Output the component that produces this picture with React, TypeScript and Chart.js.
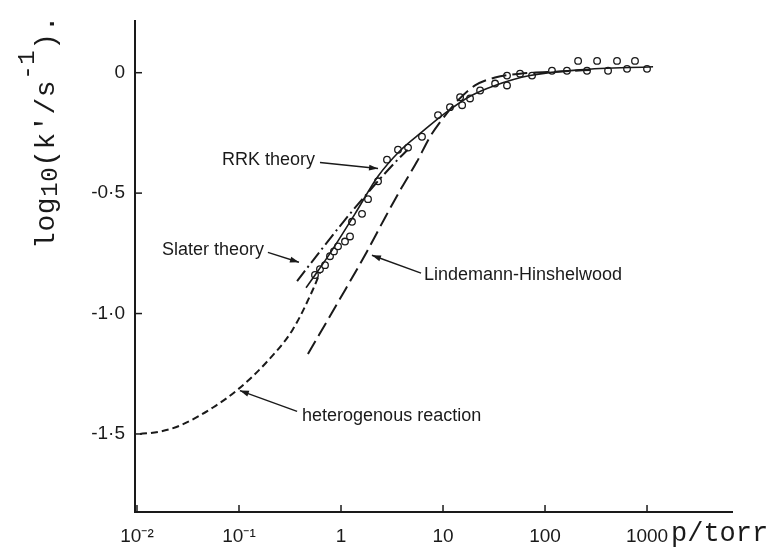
import React, { useEffect, useRef } from "react";
import { Chart, registerables } from "chart.js";

Chart.register(...registerables);

// ---- axis ticks ----
const xTickValues = [0.01, 0.1, 1, 10, 100, 1000];
const xTickLabels = ["10⁻²", "10⁻¹", "1", "10", "100", "1000"];
const yTickValues = [-1.5, -1.0, -0.5, 0];
const yTickLabels = ["-1·5", "-1·0", "-0·5", "0"];

// ---- experimental points: pressure (torr) and log10(k'/s^-1) ----
const pressure = [
  0.556, 0.622, 0.697, 0.78, 0.853, 0.935, 1.094, 1.225, 1.282, 1.607, 1.84,
  2.307, 2.824, 3.62, 4.54, 6.22, 8.93, 11.7, 14.7, 15.4, 18.4, 23.1, 32.4,
  42.4, 42.4, 56.9, 74.6, 117, 164, 211, 258, 324, 415, 508, 637, 762, 1000,
];
const logK = [
  -0.84, -0.816, -0.799, -0.762, -0.742, -0.721, -0.701, -0.68, -0.619, -0.586,
  -0.525, -0.451, -0.361, -0.32, -0.311, -0.266, -0.176, -0.143, -0.102, -0.135,
  -0.107, -0.074, -0.045, -0.053, -0.012, -0.004, -0.012, 0.008, 0.008, 0.049,
  0.008, 0.049, 0.008, 0.049, 0.016, 0.049, 0.016,
];

// ---- heterogenous reaction (short dashes) ----
const hetP = [0.0107, 0.0168, 0.0264, 0.0556, 0.0977, 0.188, 0.338, 0.531, 0.622];
const hetLogK = [-1.5, -1.49, -1.465, -1.39, -1.315, -1.2, -1.065, -0.9, -0.83];

// ---- Lindemann-Hinshelwood (long dashes) ----
const lhP = [0.474, 0.977, 1.799, 2.7, 3.96, 5.56, 7.46, 10.0, 14.0, 20.6, 32.4, 56.9, 140, 300];
const lhLogK = [-1.168, -0.939, -0.742, -0.602, -0.475, -0.369, -0.266, -0.189, -0.115, -0.053, -0.02, -0.004, 0.005, 0.012];

// ---- Slater theory (dash-dot) ----
const slaterP = [0.371, 0.622, 1.094, 1.923, 3.38, 4.5];
const slaterLogK = [-0.865, -0.742, -0.611, -0.488, -0.373, -0.32];

// ---- RRK theory (solid) ----
const rrkP = [0.454, 0.78, 1.371, 2.307, 3.79, 6.22, 10.5, 18.4, 32.4, 71.3, 220, 1146];
const rrkLogK = [-0.893, -0.75, -0.586, -0.43, -0.324, -0.246, -0.168, -0.098, -0.053, -0.012, 0.012, 0.025];

// ---- labelled arrows (anchors in data units) ----
const annotations = [
  { text: "RRK theory", at: [0.0681, -0.361], from: [0.622, -0.373], tip: [2.307, -0.398] },
  { text: "Slater theory", at: [0.0176, -0.738], from: [0.192, -0.746], tip: [0.387, -0.787] },
  { text: "Lindemann-Hinshelwood", at: [6.51, -0.84], from: [6.09, -0.832], tip: [2.01, -0.758] },
  { text: "heterogenous reaction", at: [0.415, -1.426], from: [0.371, -1.406], tip: [0.102, -1.32] },
];

const INK = "#1a1a1a";

const pts = (xs: number[], ys: number[]) => xs.map((x, i) => ({ x, y: ys[i] }));

const decorPlugin = {
  id: "decor",
  afterDraw(chart: any) {
    const { ctx, chartArea } = chart;
    const xs = chart.scales.x;
    const ys = chart.scales.y;
    ctx.save();
    ctx.strokeStyle = INK;
    ctx.fillStyle = INK;
    ctx.lineWidth = 1.5;
    // inward tick marks
    xTickValues.forEach((v) => {
      const px = xs.getPixelForValue(v);
      ctx.beginPath();
      ctx.moveTo(px, chartArea.bottom);
      ctx.lineTo(px, chartArea.bottom - 7);
      ctx.stroke();
    });
    yTickValues.forEach((v) => {
      const py = ys.getPixelForValue(v);
      ctx.beginPath();
      ctx.moveTo(chartArea.left, py);
      ctx.lineTo(chartArea.left + 7, py);
      ctx.stroke();
    });

    // annotations with arrows
    ctx.font = '18px "Liberation Sans"';
    ctx.textBaseline = "middle";
    ctx.textAlign = "left";
    annotations.forEach((a) => {
      const tx = xs.getPixelForValue(a.at[0]);
      const ty = ys.getPixelForValue(a.at[1]);
      ctx.fillText(a.text, tx, ty);
      const fx = xs.getPixelForValue(a.from[0]);
      const fy = ys.getPixelForValue(a.from[1]);
      const kx = xs.getPixelForValue(a.tip[0]);
      const ky = ys.getPixelForValue(a.tip[1]);
      ctx.lineWidth = 1.4;
      ctx.beginPath();
      ctx.moveTo(fx, fy);
      ctx.lineTo(kx, ky);
      ctx.stroke();
      const ang = Math.atan2(ky - fy, kx - fx);
      const L = 9, W = 3;
      ctx.beginPath();
      ctx.moveTo(kx, ky);
      ctx.lineTo(kx - L * Math.cos(ang) + W * Math.sin(ang), ky - L * Math.sin(ang) - W * Math.cos(ang));
      ctx.lineTo(kx - L * Math.cos(ang) - W * Math.sin(ang), ky - L * Math.sin(ang) + W * Math.cos(ang));
      ctx.closePath();
      ctx.fill();
    });

    // x axis title
    ctx.font = '27px "Liberation Mono"';
    ctx.textBaseline = "alphabetic";
    ctx.fillText("p/torr", chartArea.right - 61, chartArea.bottom + 29);

    // y axis title (rotated, with sub/superscripts)
    ctx.translate(chartArea.left - 81, chartArea.bottom - 263);
    ctx.rotate(-Math.PI / 2);
    try { (ctx as any).letterSpacing = "0.6px"; } catch (e) {}
    const parts = [
      { t: "log", size: 28, dy: 0 },
      { t: "10", size: 24, dy: 3 },
      { t: "(k'/s", size: 28, dy: 0 },
      { t: "-1", size: 24, dy: -20 },
      { t: ").", size: 28, dy: 0 },
    ];
    let cx = 0;
    parts.forEach((p) => {
      ctx.font = `${p.size}px "Liberation Mono"`;
      ctx.fillText(p.t, cx, p.dy);
      cx += ctx.measureText(p.t).width;
    });
    ctx.restore();
  },
};

export default function App() {
  const ref = useRef<HTMLCanvasElement>(null);
  useEffect(() => {
    document.body.style.margin = "0";
    const lineBase = {
      showLine: true,
      pointRadius: 0,
      borderColor: INK,
      borderWidth: 2,
      fill: false,
      cubicInterpolationMode: "monotone" as const,
    };
    const chart = new Chart(ref.current!, {
      type: "scatter",
      data: {
        datasets: [
          { ...lineBase, label: "heterogenous reaction", data: pts(hetP, hetLogK), borderDash: [7, 4] },
          { ...lineBase, label: "Lindemann-Hinshelwood", data: pts(lhP, lhLogK), borderDash: [15, 6] },
          { ...lineBase, label: "Slater theory", data: pts(slaterP, slaterLogK), borderDash: [13, 4, 2, 4] },
          { ...lineBase, label: "RRK theory", data: pts(rrkP, rrkLogK), borderWidth: 1.6 },
          {
            label: "experiment",
            data: pts(pressure, logK),
            showLine: false,
            pointRadius: 3.3,
            pointBorderWidth: 1.3,
            pointBackgroundColor: "#fff",
            pointBorderColor: INK,
          },
        ],
      },
      options: {
        responsive: false,
        animation: false,
        devicePixelRatio: 1,
        layout: { padding: { top: 15, right: 45, left: 0, bottom: 0 } },
        plugins: { legend: { display: false }, tooltip: { enabled: false } },
        scales: {
          x: {
            type: "logarithmic",
            min: 0.00956,
            max: 6808,
            grid: { display: false, drawTicks: false },
            border: { display: true, color: INK, width: 2 },
            afterBuildTicks: (s: any) => {
              s.ticks = xTickValues.map((v) => ({ value: v }));
            },
            afterFit: (s: any) => {
              s.height = 39;
            },
            ticks: {
              autoSkip: false,
              maxRotation: 0,
              padding: 13,
              color: INK,
              font: { family: "Liberation Sans", size: 19 },
              callback: (v: any) => {
                const i = xTickValues.indexOf(Number(v));
                return i >= 0 ? xTickLabels[i] : "";
              },
            },
          },
          y: {
            type: "linear",
            min: -1.824,
            max: 0.213,
            grid: { display: false, drawTicks: false },
            border: { display: true, color: INK, width: 2 },
            afterBuildTicks: (s: any) => {
              s.ticks = yTickValues.map((v) => ({ value: v }));
            },
            afterFit: (s: any) => {
              s.width = 135;
            },
            ticks: {
              autoSkip: false,
              padding: 10,
              color: INK,
              font: { family: "Liberation Sans", size: 19 },
              callback: (v: any) => {
                const i = yTickValues.indexOf(Number(v));
                return i >= 0 ? yTickLabels[i] : "";
              },
            },
          },
        },
      },
      plugins: [decorPlugin],
    });
    return () => chart.destroy();
  }, []);
  return (
    <div style={{ position: "absolute", left: 0, top: 0, width: 777, height: 551, background: "#fff" }}>
      <canvas ref={ref} width={777} height={551} style={{ display: "block" }} />
    </div>
  );
}
